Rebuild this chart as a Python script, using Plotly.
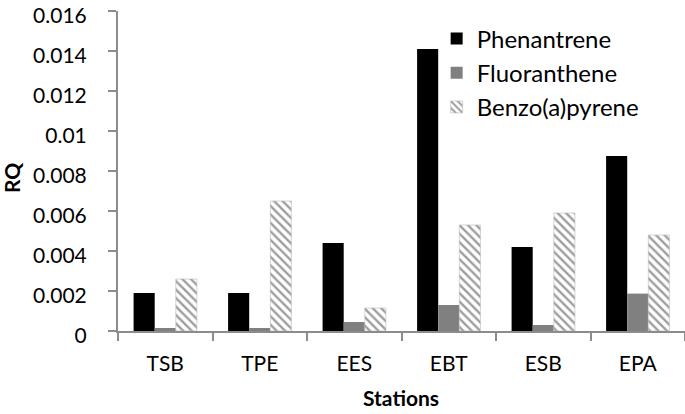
import plotly.graph_objects as go

stations = ["TSB", "TPE", "EES", "EBT", "ESB", "EPA"]
phenantrene = [0.0019, 0.0019, 0.0044, 0.0141, 0.0042, 0.00875]
fluoranthene = [0.00015, 0.00015, 0.00045, 0.0013, 0.0003, 0.00187]
benzo_a_pyrene = [0.0026, 0.0065, 0.00115, 0.0053, 0.0059, 0.0048]
y_ticks = [0, 0.002, 0.004, 0.006, 0.008, 0.01, 0.012, 0.014, 0.016]
y_ticklabels = ["0", "0.002", "0.004", "0.006", "0.008", "0.01", "0.012", "0.014", "0.016"]

FONT = "Lato"
L, T, B = 118, 11, 83
PW, PH = 685 - L, 414 - T - B

fig = go.Figure()
fig.add_trace(go.Bar(name="Phenantrene", x=stations, y=phenantrene,
                     marker=dict(color="#000000", line=dict(width=0))))
fig.add_trace(go.Bar(name="Fluoranthene", x=stations, y=fluoranthene,
                     marker=dict(color="#808080", line=dict(width=0))))
fig.add_trace(go.Bar(name="Benzo(a)pyrene", x=stations, y=benzo_a_pyrene,
                     marker=dict(color="#ffffff",
                                 line=dict(width=0.6, color="#b8b8b8"),
                                 pattern=dict(shape="\\", fgcolor="#3c3c3c", bgcolor="#ffffff",
                                              size=6, solidity=0.4))))

fig.update_layout(
    width=685, height=414,
    margin=dict(l=L, r=0, t=T, b=B, autoexpand=False),
    paper_bgcolor="white", plot_bgcolor="white",
    barmode="group", bargap=0.33, bargroupgap=0,
    font=dict(family=FONT, size=21, color="#000000"),
    showlegend=True,
    legend=dict(x=0.562, y=0.983, xanchor="left", yanchor="top",
                font=dict(family=FONT, size=24, color="#000000"),
                bgcolor="rgba(0,0,0,0)", tracegroupgap=0, itemwidth=30),
    annotations=[
        dict(text="<b>RQ</b>", xref="paper", yref="paper", x=-(L - 11) / PW, y=(331 - 178) / PH,
             xanchor="center", yanchor="middle", textangle=-90, showarrow=False,
             font=dict(family=FONT, size=21)),
        dict(text="<b>Stations</b>", xref="paper", yref="paper", x=(401 - L) / PW, y=-(397 - 331) / PH,
             xanchor="center", yanchor="middle", showarrow=False,
             font=dict(family=FONT, size=21)),
    ],
)
fig.update_xaxes(
    automargin=False,
    showline=True, linecolor="#8c8c8c", linewidth=2,
    ticks="outside", tickson="boundaries", ticklen=8, tickcolor="#8c8c8c", tickwidth=2,
    tickfont=dict(family=FONT, size=21), ticklabelstandoff=13,
    showgrid=False, zeroline=False,
)
fig.update_yaxes(
    automargin=False,
    range=[0, 0.016001], tickvals=y_ticks, ticktext=y_ticklabels,
    showline=True, linecolor="#8c8c8c", linewidth=2,
    ticks="outside", ticklen=8, tickcolor="#8c8c8c", tickwidth=2,
    tickfont=dict(family=FONT, size=21), ticklabelstandoff=17, ticklabelshift=5,
    ticklabeloverflow="allow",
    showgrid=False, zeroline=False,
)

fig.write_html("out.html", config={"displayModeBar": False},
               post_script="document.body.style.margin='0';")
